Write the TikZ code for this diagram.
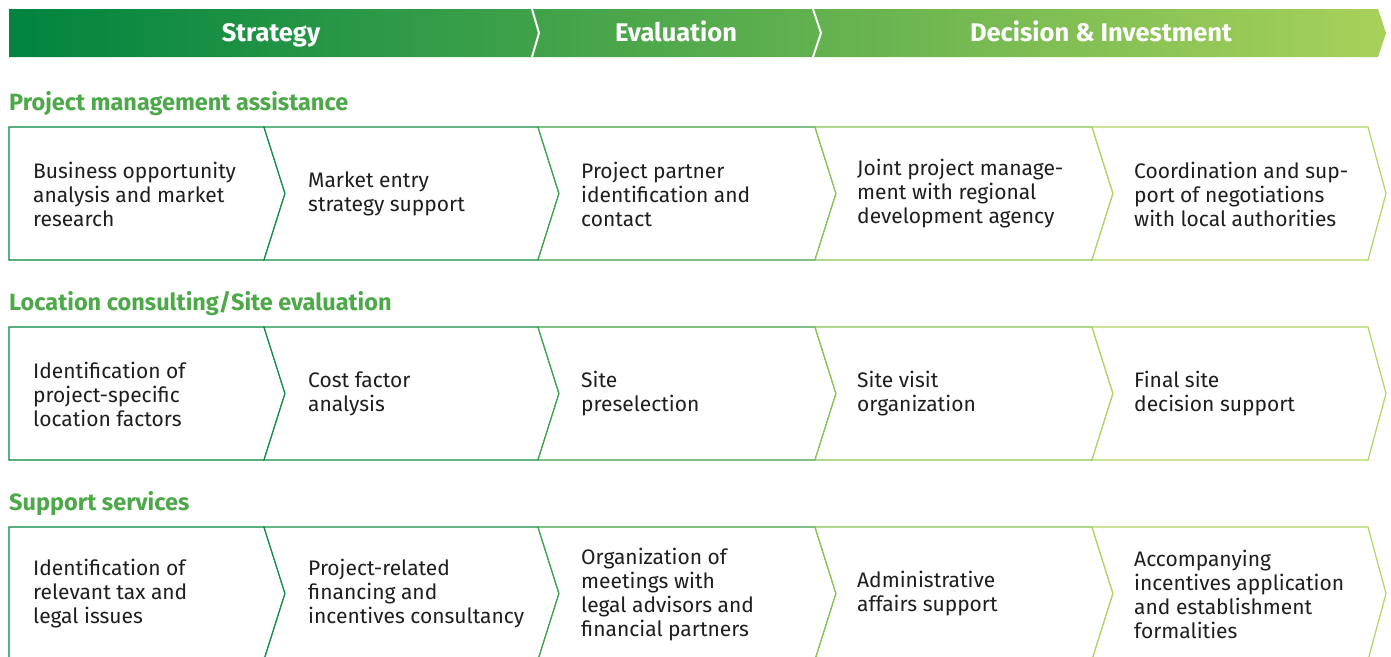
\documentclass[tikz,border=0pt]{standalone}
\usepackage{fontspec}
\setmainfont{Fira Sans}
\definecolor{gA}{RGB}{0,132,63}
\definecolor{gZ}{RGB}{168,209,90}
\definecolor{title}{RGB}{76,168,72}
\definecolor{s1}{RGB}{0,132,63}
\definecolor{s2}{RGB}{20,140,66}
\definecolor{s3}{RGB}{62,160,72}
\definecolor{s4}{RGB}{135,196,82}
\definecolor{s5}{RGB}{175,214,100}
\definecolor{txt}{RGB}{30,30,30}
\tikzset{
  hdrtext/.style={text=white,font=\fontsize{25.5}{30}\selectfont\bfseries,inner sep=0,anchor=base},
  sectitle/.style={text=title,font=\fontsize{23.5}{28}\selectfont\bfseries,anchor=base west,inner sep=0},
  celltext/.style={text=txt,font=\fontsize{21}{24}\selectfont,anchor=west,align=left,inner sep=0},
  cellbox/.style={line width=1.2pt,fill=white},
}
\begin{document}
\begin{tikzpicture}[x=1pt,y=-1pt]
\useasboundingbox (0,0) rectangle (1391,656);
% header band
\shade[left color=gA,right color=gZ] (9,9) -- (1378,9) -- (1386,33) -- (1378,57) -- (9,57) -- cycle;
\draw[white,line width=2pt] (532,9) -- (539,33) -- (532,57);
\draw[white,line width=2pt] (813,9) -- (821,33) -- (813,57);
\node[hdrtext] (hS) at (271,41) {Strategy};
\node[hdrtext] (hE) at (676,41) {Evaluation};
\node[hdrtext] (hD) at (1101,41) {Decision \& Investment};
% rows
\foreach \T/\B/\M in {127/260/193.5, 327/460/393.5, 527/660/593.5}{
  \draw[cellbox,draw=s1] (9,\T) -- (264,\T) -- (285,\M) -- (264,\B) -- (9,\B) -- cycle;
  \draw[cellbox,draw=s2] (264,\T) -- (538,\T) -- (559,\M) -- (538,\B) -- (264,\B) -- (285,\M) -- cycle;
  \draw[cellbox,draw=s3] (538,\T) -- (815,\T) -- (836,\M) -- (815,\B) -- (538,\B) -- (559,\M) -- cycle;
  \draw[cellbox,draw=s4] (815,\T) -- (1092,\T) -- (1113,\M) -- (1092,\B) -- (815,\B) -- (836,\M) -- cycle;
  \draw[cellbox,draw=s5] (1092,\T) -- (1368,\T) -- (1386,\M) -- (1368,\B) -- (1092,\B) -- (1113,\M) -- cycle;
}
% section titles
\node[sectitle] (t1) at (9,110) {Project management assistance};
\node[sectitle] (t2) at (9,310) {Location consulting/Site evaluation};
\node[sectitle] (t3) at (9,510) {Support services};
% row 1
\node[celltext] (a1) at (33,194) {Business opportunity\\analysis and market\\research};
\node[celltext] (a2) at (308,194) {Market entry\\strategy support};
\node[celltext] (a3) at (581,194) {Project partner\\identification and\\contact};
\node[celltext] (a4) at (857,194) {Joint project manage-\\ment with regional\\development agency};
\node[celltext] (a5) at (1134,194) {Coordination and sup-\\port of negotiations\\with local authorities};
% row 2
\node[celltext] (b1) at (33,394) {Identification of\\project-specific\\location factors};
\node[celltext] (b2) at (308,394) {Cost factor\\analysis};
\node[celltext] (b3) at (581,394) {Site\\preselection};
\node[celltext] (b4) at (857,394) {Site visit\\organization};
\node[celltext] (b5) at (1134,394) {Final site\\decision support};
% row 3
\node[celltext] (c1) at (33,594) {Identification of\\relevant tax and\\legal issues};
\node[celltext] (c2) at (308,594) {Project-related\\financing and\\incentives consultancy};
\node[celltext] (c3) at (581,595) {Organization of\\meetings with\\legal advisors and\\financial partners};
\node[celltext] (c4) at (857,594) {Administrative\\affairs support};
\node[celltext] (c5) at (1134,594) {Accompanying\\incentives application\\and establishment\\formalities};
\end{tikzpicture}
\end{document}
